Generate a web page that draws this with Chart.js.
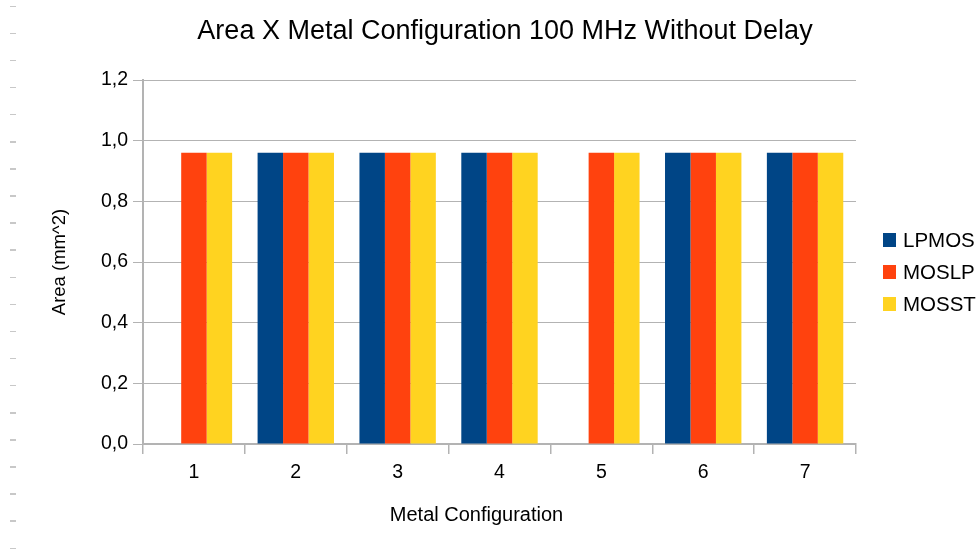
<!DOCTYPE html>
<html>
<head>
<meta charset="utf-8">
<script src="https://cdn.jsdelivr.net/npm/chart.js@4.4.1/dist/chart.umd.min.js"></script>
<style>
  html, body { margin: 0; padding: 0; background: #fff; }
  #wrap { position: relative; width: 979px; height: 558px; }
  #rowmarks {
    position: absolute; left: 10px; top: 0; width: 6px; height: 558px;
    background: repeating-linear-gradient(to bottom, transparent 0, transparent 5.5px, #c8c8c8 5.5px, #c8c8c8 7px, transparent 7px, transparent 27.1px);
  }
  canvas { position: absolute; left: 0; top: 0; }
</style>
</head>
<body>
<div id="wrap">
  <div id="rowmarks"></div>
  <canvas id="chart" width="979" height="558"></canvas>
</div>
<script>
// Metal configuration categories and area per process (mm^2)
const categories = ['1', '2', '3', '4', '5', '6', '7'];
const lpmos = [null, 0.96, 0.96, 0.96, null, 0.96, 0.96];
const moslp = [0.96, 0.96, 0.96, 0.96, 0.96, 0.96, 0.96];
const mosst = [0.96, 0.96, 0.96, 0.96, 0.96, 0.96, 0.96];
const seriesNames = ['LPMOS', 'MOSLP', 'MOSST'];
const seriesColors = ['#004586', '#ff420e', '#ffd320'];
const xAxisTitle = 'Metal Configuration';

const FONT = '"Liberation Sans", Arial, sans-serif';
const AXIS_GREY = '#b3b3b3';

// Legend on the right, drawn from the dataset labels and colours
const sideLegend = {
  id: 'sideLegend',
  afterDraw(chart) {
    const ctx = chart.ctx;
    const sets = chart.data.datasets;
    const rowH = 32;
    const centerY = 272;
    const x0 = chart.chartArea.right + 27;
    ctx.save();
    ctx.font = '20.5px ' + FONT;
    ctx.textBaseline = 'middle';
    sets.forEach((ds, i) => {
      const cy = centerY + (i - (sets.length - 1) / 2) * rowH;
      ctx.fillStyle = ds.backgroundColor;
      ctx.fillRect(x0, cy - 7, 13, 14);
      ctx.fillStyle = '#000';
      ctx.fillText(ds.label, x0 + 20, cy + 1);
    });
    ctx.restore();
  }
};

// Category axis caption, sitting a little left of the plot centre
const xCaption = {
  id: 'xCaption',
  afterDraw(chart) {
    const ctx = chart.ctx;
    const area = chart.chartArea;
    ctx.save();
    ctx.font = '20px ' + FONT;
    ctx.fillStyle = '#000';
    ctx.textAlign = 'center';
    ctx.textBaseline = 'middle';
    ctx.fillText(xAxisTitle, (area.left + area.right) / 2 - 23, area.bottom + 71);
    ctx.restore();
  }
};

new Chart(document.getElementById('chart'), {
  type: 'bar',
  data: {
    labels: categories,
    datasets: [
      { label: seriesNames[0], data: lpmos, backgroundColor: seriesColors[0] },
      { label: seriesNames[1], data: moslp, backgroundColor: seriesColors[1] },
      { label: seriesNames[2], data: mosst, backgroundColor: seriesColors[2] }
    ]
  },
  options: {
    responsive: false,
    animation: false,
    events: [],
    layout: { padding: { left: 31, right: 0, top: 0, bottom: 0 } },
    datasets: {
      bar: { categoryPercentage: 0.75, barPercentage: 1.0, borderWidth: 0 }
    },
    plugins: {
      legend: { display: false },
      tooltip: { enabled: false },
      title: {
        display: true,
        text: 'Area X Metal Configuration 100 MHz Without Delay',
        color: '#000',
        font: { family: FONT, size: 27, weight: 'normal' },
        padding: { top: 15, bottom: 32.6 }
      }
    },
    scales: {
      x: {
        offset: true,
        afterFit(scale) { scale.height = 114; },
        grid: {
          offset: true,
          drawOnChartArea: true,
          color: (c) => (c.index === categories.length ? AXIS_GREY : 'rgba(0,0,0,0)'),
          lineWidth: 1.5,
          tickColor: AXIS_GREY,
          tickWidth: 1.5,
          tickLength: 10
        },
        border: { color: AXIS_GREY, width: 2 },
        ticks: {
          color: '#000',
          font: { family: FONT, size: 19.5 },
          padding: 7,
          maxRotation: 0
        },
        title: { display: false }
      },
      y: {
        min: 0,
        max: 1.2,
        afterFit(scale) { scale.width = 112; },
        grid: {
          color: AXIS_GREY,
          lineWidth: 1,
          tickColor: AXIS_GREY,
          tickLength: 10
        },
        border: { color: AXIS_GREY, width: 2 },
        ticks: {
          stepSize: 0.2,
          color: '#000',
          padding: 5,
          font: { family: FONT, size: 19.5 },
          callback: (v) => Number(v).toFixed(1).replace('.', ',')
        },
        title: {
          display: true,
          text: 'Area (mm^2)',
          color: '#000',
          font: { family: FONT, size: 18.5 },
          padding: { top: 18, bottom: 0 }
        }
      },
      // empty band on the right that holds the legend
      legendBand: {
        type: 'linear',
        position: 'right',
        display: true,
        afterFit(scale) { scale.width = 123; },
        grid: { display: false, drawTicks: false },
        border: { display: false },
        ticks: { display: false }
      }
    }
  },
  plugins: [sideLegend, xCaption]
});
</script>
</body>
</html>
